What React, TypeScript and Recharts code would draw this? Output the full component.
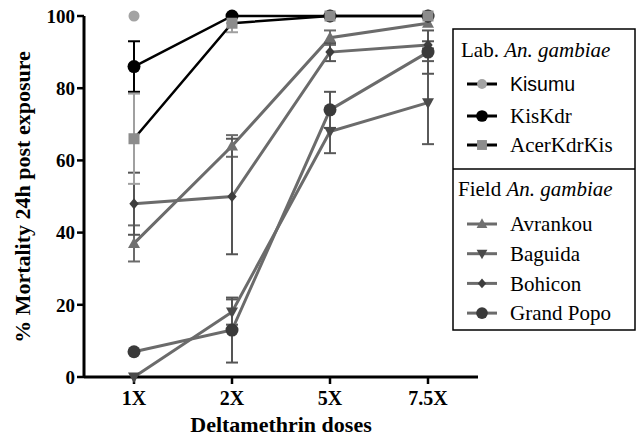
import { ErrorBar, Line, LineChart, XAxis, YAxis } from "recharts";

const doses = ["1X", "2X", "5X", "7.5X"];
const yTicks = [0, 20, 40, 60, 80, 100];

// lab strains
const kisumu = [100, null, null, null];
const kisKdr = [86, 100, 100, 100];
const kisKdrErr = [7, null, null, null];
const acerKdrKis = [66, 98, 100, 100];
const acerKdrKisErr: (number | number[] | null)[] = [12.5, [2.5, 0], null, null];

// field populations
const avrankou = [37, 64, 94, 98];
const avrankouErr = [5, 3, 2, null];
const baguida = [0, 18, 68, 76];
const baguidaErr = [null, 3.5, 6, 11.5];
const bohicon = [48, 50, 90, 92];
const bohiconErr = [8.6, 16, 2.5, 1];
const grandPopo = [7, 13, 74, 90];
const grandPopoErr = [null, 9, 5, 6];

type Shape = "circle" | "square" | "up" | "down" | "diamond";

interface SeriesDef {
  key: string;
  name: string;
  values: (number | null)[];
  err?: (number | number[] | null)[];
  fill: string;
  line: string;
  errColor: string;
  shape: Shape;
  size: number;
}

const FIELD_LINE = "#6b6b6b";

const fieldSeries: SeriesDef[] = [
  { key: "avrankou", name: "Avrankou", values: avrankou, err: avrankouErr, fill: "#707070", line: FIELD_LINE, errColor: "#6b6b6b", shape: "up", size: 6 },
  { key: "baguida", name: "Baguida", values: baguida, err: baguidaErr, fill: "#4a4a4a", line: FIELD_LINE, errColor: "#5a5a5a", shape: "down", size: 6 },
  { key: "bohicon", name: "Bohicon", values: bohicon, err: bohiconErr, fill: "#3d3d3d", line: FIELD_LINE, errColor: "#555555", shape: "diamond", size: 5.5 },
  { key: "grandPopo", name: "Grand Popo", values: grandPopo, err: grandPopoErr, fill: "#3a3a3a", line: FIELD_LINE, errColor: "#555555", shape: "circle", size: 6.5 },
];

const labSeries: SeriesDef[] = [
  { key: "kisumu", name: "Kisumu", values: kisumu, fill: "#a3a3a3", line: "#000", errColor: "#a3a3a3", shape: "circle", size: 5.5 },
  { key: "kisKdr", name: "KisKdr", values: kisKdr, err: kisKdrErr, fill: "#000", line: "#000", errColor: "#000", shape: "circle", size: 6.5 },
  { key: "acerKdrKis", name: "AcerKdrKis", values: acerKdrKis, err: acerKdrKisErr, fill: "#8c8c8c", line: "#000", errColor: "#a0a0a0", shape: "square", size: 5.5 },
];

const allSeries = [...fieldSeries, ...labSeries];

const rows = doses.map((dose, i) => {
  const row: Record<string, any> = { dose };
  allSeries.forEach((s) => {
    row[s.key] = s.values[i];
    if (s.err) row[s.key + "Err"] = s.err[i];
  });
  return row;
});

function Marker({ shape, cx, cy, r, fill }: { shape: Shape; cx: number; cy: number; r: number; fill: string }) {
  if (shape === "circle") return <circle cx={cx} cy={cy} r={r} fill={fill} />;
  if (shape === "square") return <rect x={cx - r} y={cy - r} width={r * 2} height={r * 2} fill={fill} />;
  if (shape === "up")
    return <polygon points={`${cx},${cy - r * 1.05} ${cx + r},${cy + r * 0.75} ${cx - r},${cy + r * 0.75}`} fill={fill} />;
  if (shape === "down")
    return <polygon points={`${cx},${cy + r * 1.05} ${cx + r},${cy - r * 0.75} ${cx - r},${cy - r * 0.75}`} fill={fill} />;
  return <polygon points={`${cx},${cy - r} ${cx + r * 0.85},${cy} ${cx},${cy + r} ${cx - r * 0.85},${cy}`} fill={fill} />;
}

const serif = "'Liberation Serif', 'Times New Roman', serif";
const LEGEND_FONT = 21;

function LegendItem({ s, y }: { s: SeriesDef; y: number }) {
  return (
    <g>
      <line x1={467} x2={497} y1={y} y2={y} stroke={s.line} strokeWidth={3} />
      <Marker shape={s.shape} cx={482} cy={y} r={s.size * 0.9} fill={s.fill} />
      <text
        x={510}
        y={y}
        dy="0.35em"
        fontSize={s.key === "kisumu" ? 19.5 : LEGEND_FONT}
        fontFamily={s.key === "kisumu" ? "'Liberation Sans', Arial, sans-serif" : serif}
        fill="#000"
      >
        {s.name}
      </text>
    </g>
  );
}

export default function App() {
  const renderDot = (s: SeriesDef) => (props: any) => {
    const { cx, cy, index } = props;
    if (cx == null || cy == null || props.value == null) return <g key={`${s.key}-d${index}`} />;
    return (
      <g key={`${s.key}-d${index}`}>
        <Marker shape={s.shape} cx={cx} cy={cy} r={s.size} fill={s.fill} />
      </g>
    );
  };

  return (
    <div style={{ position: "absolute", left: 0, top: 0, width: 638, height: 436, background: "#fff" }}>
      <LineChart width={638} height={436} data={rows} margin={{ top: 16, right: 160, bottom: 29, left: 24 }}>
        <XAxis
          dataKey="dose"
          padding={{ left: 50, right: 50 }}
          height={30}
          axisLine={{ stroke: "#000", strokeWidth: 3 }}
          tickLine={{ stroke: "#000", strokeWidth: 2.5 }}
          tickSize={7}
          tickMargin={7}
          tick={{ fill: "#000", fontSize: 20, fontWeight: 700, fontFamily: serif }}
        />
        <YAxis
          type="number"
          domain={[0, 100]}
          ticks={yTicks}
          width={60}
          axisLine={{ stroke: "#000", strokeWidth: 3 }}
          tickLine={{ stroke: "#000", strokeWidth: 2.5 }}
          tickSize={7}
          tick={{ fill: "#000", fontSize: 19, fontWeight: 700, fontFamily: serif }}
        />
        {allSeries.map((s) => (
          <Line
            key={s.key}
            dataKey={s.key}
            name={s.name}
            type="linear"
            stroke={s.line}
            strokeWidth={s.line === "#000" ? 2.5 : 3}
            dot={renderDot(s)}
            activeDot={false}
            isAnimationActive={false}
          >
            {s.err ? (
              <ErrorBar dataKey={s.key + "Err"} width={6} stroke={s.errColor} strokeWidth={2} direction="y" />
            ) : null}
          </Line>
        ))}
      </LineChart>
      <svg width={638} height={436} style={{ position: "absolute", left: 0, top: 0, pointerEvents: "none" }}>
        <text
          transform="translate(22,197) rotate(-90)"
          textAnchor="middle"
          dy="0.35em"
          fontSize={22}
          fontWeight={700}
          fontFamily={serif}
          fill="#000"
        >
          % Mortality 24h post exposure
        </text>
        <text x={281} y={424} textAnchor="middle" dy="0.35em" fontSize={22} fontWeight={700} fontFamily={serif} fill="#000">
          Deltamethrin doses
        </text>

        <rect x={453} y={29} width={182} height={301} fill="none" stroke="#000" strokeWidth={1.5} />
        <line x1={453} x2={635} y1={169} y2={169} stroke="#000" strokeWidth={1.5} />

        <text x={461} y={50} dy="0.35em" fontSize={LEGEND_FONT} fontFamily={serif} fill="#000">
          Lab. <tspan fontStyle="italic">An. gambiae</tspan>
        </text>
        {labSeries.map((s, i) => (
          <LegendItem key={s.key} s={s} y={[84, 116, 145][i]} />
        ))}

        <text x={458} y={189} dy="0.35em" fontSize={LEGEND_FONT} fontFamily={serif} fill="#000">
          Field <tspan fontStyle="italic">An. gambiae</tspan>
        </text>
        {fieldSeries.map((s, i) => (
          <LegendItem key={s.key} s={s} y={224 + i * 29.7} />
        ))}
      </svg>
    </div>
  );
}
